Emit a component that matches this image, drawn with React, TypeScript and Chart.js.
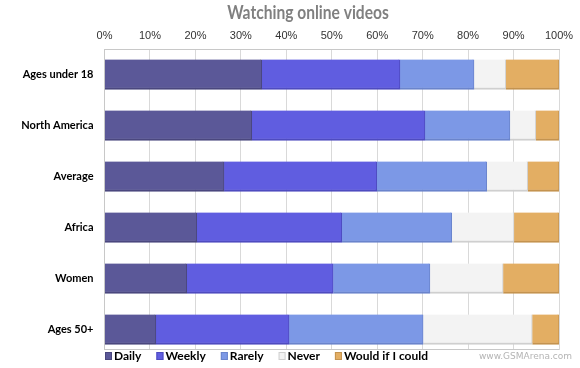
import React, { useEffect, useRef } from "react";
import { Chart, registerables } from "chart.js";

Chart.register(...registerables);

const categories = ["Ages under 18", "North America", "Average", "Africa", "Women", "Ages 50+"];
const seriesNames = ["Daily", "Weekly", "Rarely", "Never", "Would if I could"];
const daily = [34.6, 32.4, 26.3, 20.3, 18.1, 11.3];
const weekly = [30.4, 38.1, 33.6, 31.9, 32.2, 29.3];
const rarely = [16.3, 18.7, 24.2, 24.2, 21.3, 29.5];
const never = [7.0, 5.7, 9.0, 13.7, 16.1, 24.0];
const wouldIfICould = [11.7, 5.1, 6.9, 9.9, 12.3, 5.9];
const xTicks = [0, 10, 20, 30, 40, 50, 60, 70, 80, 90, 100];

const fills = ["#5b5898", "#605de0", "#7c98e6", "#f3f3f3", "#e3ae63"];
const edges = ["#4a477e", "#4e4bc0", "#6a84cc", "#cfcfcf", "#c4934f"];

const overlay = {
  id: "overlay",
  afterDraw(chart: any) {
    const ctx = chart.ctx;
    const { left, right } = chart.chartArea;
    const W = chart.width;
    const H = chart.height;
    ctx.save();
    ctx.fillStyle = "#ffffff";
    ctx.fillRect(0, 350, W, H - 350);
    ctx.strokeStyle = "#c8c8c8";
    ctx.lineWidth = 1;
    ctx.beginPath();
    ctx.moveTo(left, 349.5);
    ctx.lineTo(right, 349.5);
    ctx.stroke();

    // title (condensed)
    ctx.save();
    ctx.fillStyle = "#808080";
    ctx.font = "bold 19px Lato";
    ctx.textAlign = "center";
    ctx.textBaseline = "middle";
    ctx.translate(308, 13);
    ctx.scale(0.82, 1);
    ctx.fillText("Watching online videos", 0, 0);
    ctx.restore();

    // legend
    ctx.font = "bold 12px Lato";
    ctx.textAlign = "left";
    ctx.textBaseline = "middle";
    let x = 105;
    const y = 356;
    chart.data.datasets.forEach((ds: any, i: number) => {
      ctx.fillStyle = fills[i];
      ctx.fillRect(x, y - 4, 7, 8);
      ctx.strokeStyle = edges[i];
      ctx.strokeRect(x + 0.5, y - 3.5, 6, 7);
      ctx.fillStyle = "#000000";
      ctx.fillText(ds.label, x + 9, y);
      x += 9 + ctx.measureText(ds.label).width + 15;
    });

    // watermark
    ctx.fillStyle = "#b4b4b4";
    ctx.font = "9px 'DejaVu Sans'";
    ctx.textAlign = "right";
    ctx.fillText("www.GSMArena.com", 572, 357);
    ctx.restore();
  },
};

export default function App() {
  const ref = useRef<HTMLCanvasElement | null>(null);
  useEffect(() => {
    document.body.style.margin = "0";
    const series = [daily, weekly, rarely, never, wouldIfICould];
    const chart = new Chart(ref.current as HTMLCanvasElement, {
      type: "bar",
      data: {
        labels: categories,
        datasets: series.map((d, i) => ({
          label: seriesNames[i],
          data: d,
          backgroundColor: fills[i],
          borderColor: edges[i],
          borderWidth: { top: 0, left: 0, right: 1, bottom: 2 },
          borderSkipped: false,
          barThickness: 30,
        })),
      },
      options: {
        indexAxis: "y",
        animation: false,
        responsive: true,
        maintainAspectRatio: false,
        layout: { padding: { left: 0, right: 21, top: 0, bottom: 13 } },
        plugins: {
          legend: { display: false },
          title: { display: false },
          tooltip: { enabled: false },
        },
        scales: {
          x: {
            position: "top",
            stacked: true,
            min: 0,
            max: 100,
            afterFit: (s: any) => {
              s.height = 49;
            },
            afterBuildTicks: (s: any) => {
              s.ticks = xTicks.map((v) => ({ value: v }));
            },
            ticks: {
              callback: (v: any) => v + "%",
              color: "#333333",
              font: { family: "'Liberation Sans'", size: 11 },
              padding: 6,
              maxRotation: 0,
            },
            grid: { color: "#d9d9d9", drawTicks: false },
            border: { color: "#c8c8c8" },
          },
          y: {
            stacked: true,
            afterFit: (s: any) => {
              s.width = 104.5;
              s.paddingTop = 0;
              s.paddingBottom = 0;
            },
            ticks: {
              color: "#000000",
              font: { family: "Lato", size: 11, weight: "bold" },
              padding: 11,
            },
            grid: { display: false, drawTicks: false },
            border: { color: "#c8c8c8" },
          },
        },
      },
      plugins: [overlay],
    });
    return () => chart.destroy();
  }, []);
  return (
    <div style={{ width: 580, height: 368, position: "relative" }}>
      <canvas ref={ref} />
    </div>
  );
}
